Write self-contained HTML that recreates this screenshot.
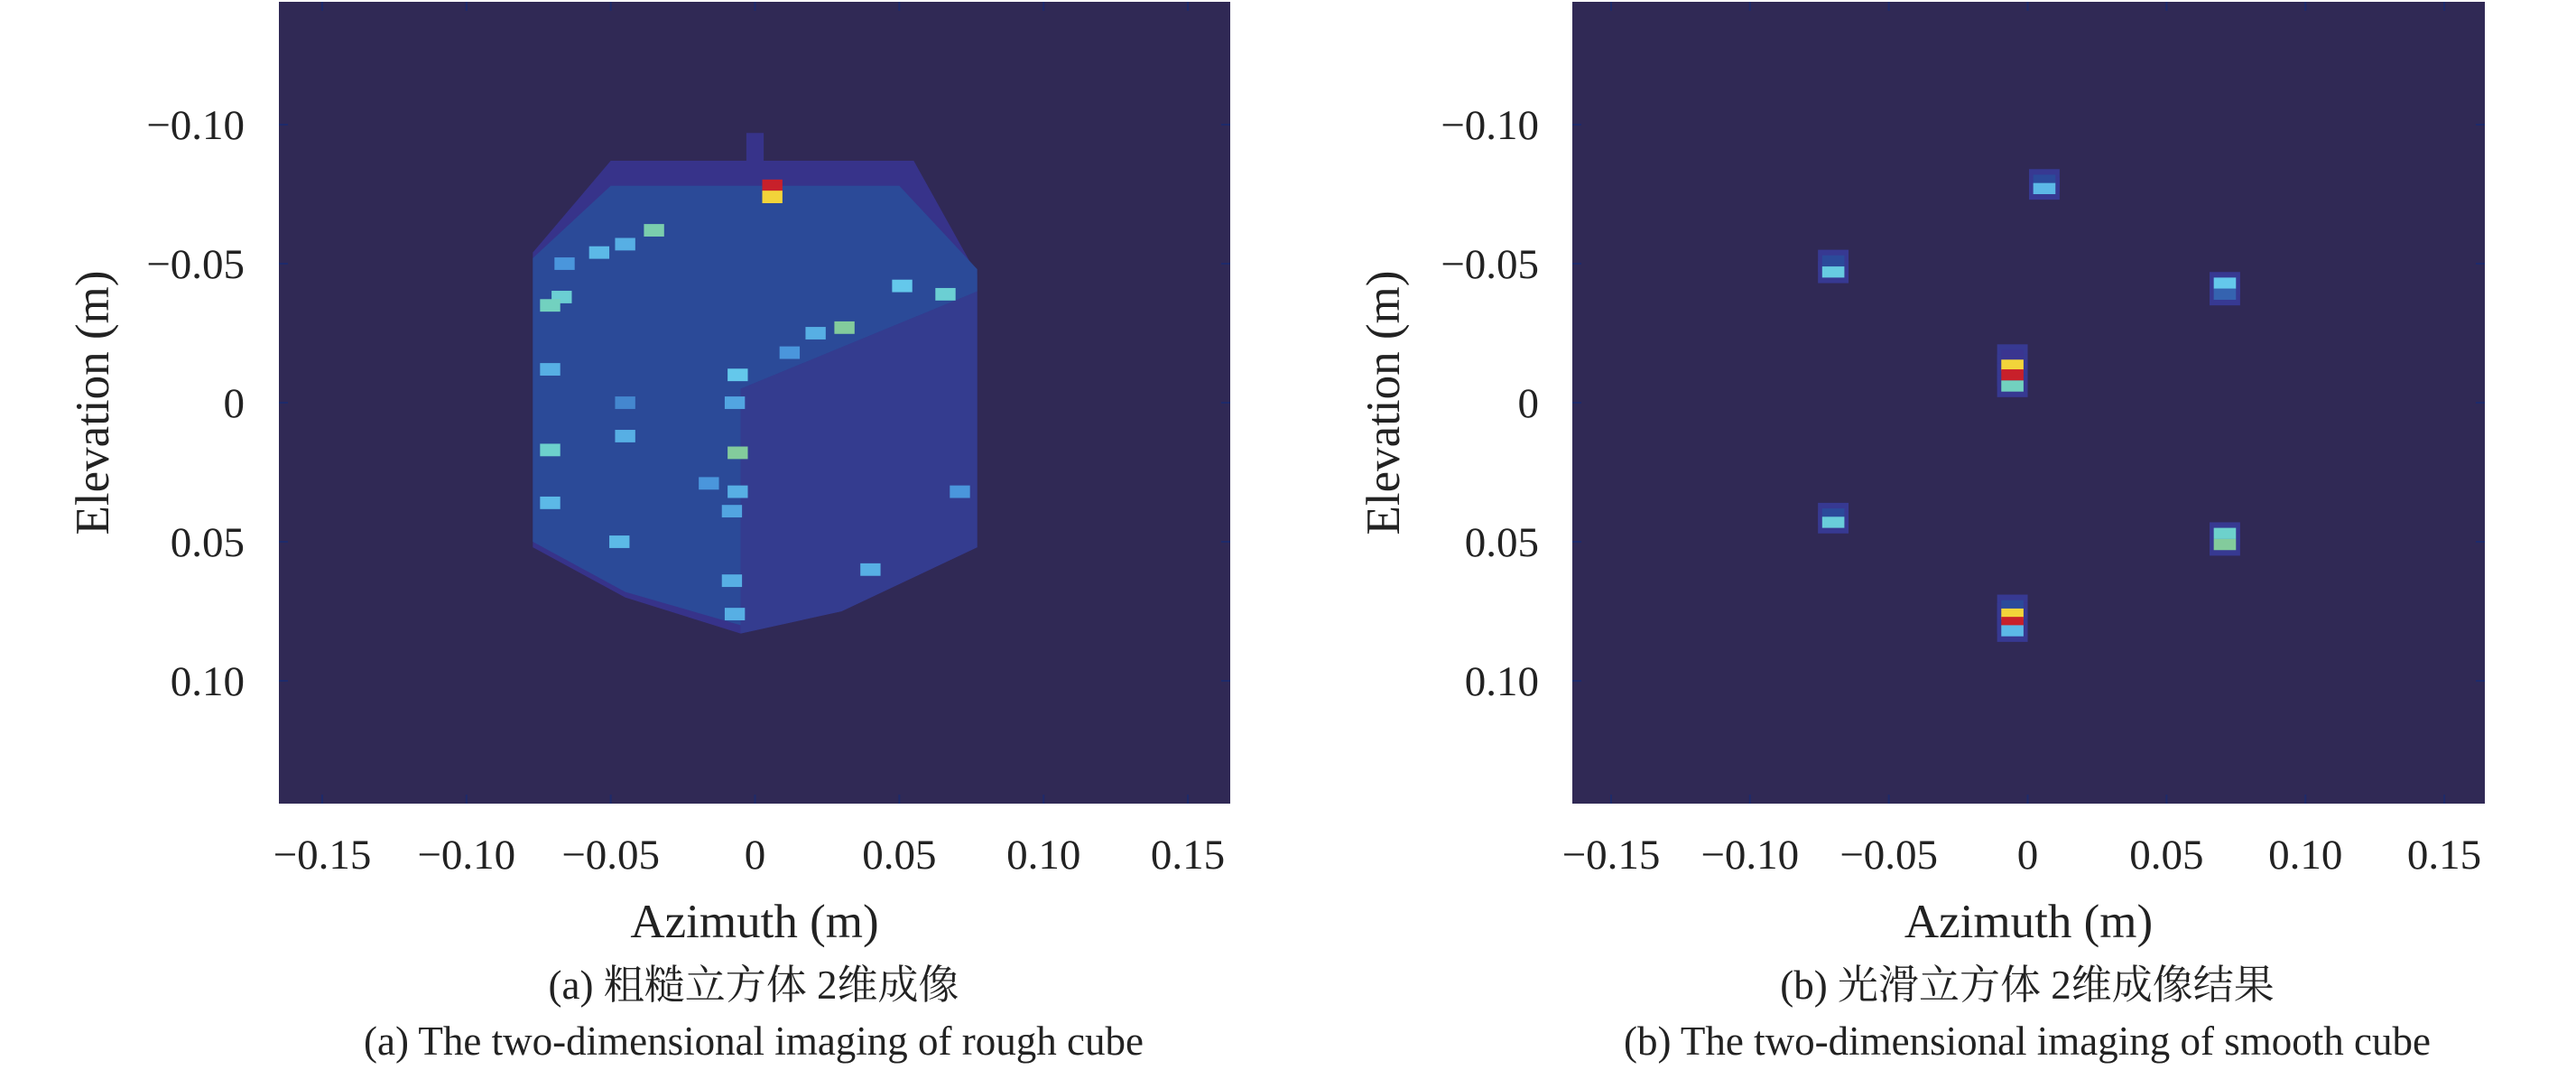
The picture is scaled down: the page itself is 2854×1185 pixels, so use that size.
<!DOCTYPE html>
<html><head><meta charset="utf-8">
<style>
html,body{margin:0;padding:0;background:#fff;}
svg{display:block;font-family:"Liberation Serif","Noto Serif CJK SC","Noto Sans CJK SC",serif;}
</style></head>
<body>
<svg id="fig" width="2854" height="1185" viewBox="0 0 2854 1185"></svg>
<script>
// ---- data ----
const xTicks = [-0.15, -0.10, -0.05, 0, 0.05, 0.10, 0.15];
const xTickLabels = ["−0.15", "−0.10", "−0.05", "0", "0.05", "0.10", "0.15"];
const yTicks = [-0.10, -0.05, 0, 0.05, 0.10];
const yTickLabels = ["−0.10", "−0.05", "0", "0.05", "0.10"];
// rough cube outline (x, y) in metres
const roughOuterX = [-0.003, 0.003, 0.003, 0.055, 0.077, 0.077, 0.03, -0.005, -0.045, -0.077, -0.077, -0.05, -0.003];
const roughOuterY = [-0.097, -0.097, -0.087, -0.087, -0.046, 0.052, 0.075, 0.083, 0.070, 0.052, -0.054, -0.087, -0.087];
const roughRightX = [-0.005, 0.077, 0.077, 0.03, -0.005];
const roughRightY = [-0.005, -0.040, 0.052, 0.075, 0.083];
const roughInnerX = [-0.077, -0.05, 0.05, 0.077, 0.077, -0.005, -0.005, -0.045, -0.077];
const roughInnerY = [-0.052, -0.078, -0.078, -0.048, -0.040, -0.005, 0.080, 0.068, 0.050];
// rough cube bright scatterers
const roughHotX = [0.006, 0.006, -0.035, -0.045, -0.054, -0.066, -0.067, -0.071, 0.051, 0.066, 0.031, 0.021, 0.012, -0.006, -0.071, -0.007, -0.045, -0.071, -0.045, -0.006, -0.016, -0.006, -0.008, -0.071, -0.047, 0.071, 0.040, -0.008, -0.007];
const roughHotY = [-0.078, -0.074, -0.062, -0.057, -0.054, -0.050, -0.038, -0.035, -0.042, -0.039, -0.027, -0.025, -0.018, -0.010, -0.012, 0.000, 0.000, 0.017, 0.012, 0.018, 0.029, 0.032, 0.039, 0.036, 0.050, 0.032, 0.060, 0.064, 0.076];
const roughHotV = [1.0, 0.85, 0.68, 0.5, 0.52, 0.45, 0.62, 0.66, 0.55, 0.62, 0.7, 0.5, 0.45, 0.55, 0.5, 0.48, 0.42, 0.64, 0.5, 0.7, 0.45, 0.5, 0.48, 0.52, 0.52, 0.45, 0.5, 0.5, 0.5];
// smooth cube scatterers
const smoothX = [0.006, 0.006, -0.070, -0.070, 0.071, 0.071, -0.0055, -0.0055, -0.0055, -0.0055, -0.070, -0.070, 0.071, 0.071, -0.0055, -0.0055, -0.0055, -0.0055];
const smoothY = [-0.080, -0.077, -0.051, -0.047, -0.043, -0.039, -0.017, -0.0135, -0.010, -0.006, 0.040, 0.043, 0.047, 0.051, 0.073, 0.076, 0.079, 0.082];
const smoothV = [0.3, 0.52, 0.3, 0.58, 0.55, 0.35, 0.2, 0.85, 1.0, 0.66, 0.3, 0.6, 0.64, 0.7, 0.3, 0.85, 1.0, 0.52];

const NS = "http://www.w3.org/2000/svg";
const svg = document.getElementById("fig");
function mk(tag, attrs, parent){ const e=document.createElementNS(NS,tag); for(const k in attrs) e.setAttribute(k,attrs[k]); (parent||svg).appendChild(e); return e; }
function cmap(v){
  const st=[[0,[48,41,85]],[0.2,[58,53,144]],[0.3,[43,74,154]],[0.45,[74,150,220]],[0.55,[100,200,235]],[0.65,[110,210,200]],[0.72,[140,200,138]],[0.85,[242,212,58]],[1,[200,32,42]]];
  for(let i=1;i<st.length;i++){ if(v<=st[i][0]){ const a=st[i-1],b=st[i],t=(v-a[0])/(b[0]-a[0]); const c=a[1].map((x,j)=>Math.round(x+(b[1][j]-x)*t)); return "rgb("+c.join(",")+")"; } }
  return "rgb(200,32,42)";
}

function makeAxes(name, L, R, x0px, pxPerX, ylabelX, tickRight){
  const T=2, B=890, y0px=446, pxPerY=3080;
  const sx=v=>x0px+v*pxPerX, sy=v=>y0px+v*pxPerY;
  const g=mk("g",{});  
  const bg=mk("rect",{x:L,y:T,width:R-L,height:B-T,fill:"#302955"},g);
   
  const clip=mk("clipPath",{id:name+"-clip"},g); mk("rect",{x:L,y:T,width:R-L,height:B-T},clip);
  const marks=mk("g",{"clip-path":"url(#"+name+"-clip)"},g);
  xTicks.forEach((t,i)=>{
    const x=sx(t);
    mk("line",{x1:x,y1:B,x2:x,y2:B-10,stroke:"#1e2a6a","stroke-width":2},g);
    mk("line",{x1:x,y1:T,x2:x,y2:T+10,stroke:"#1e2a6a","stroke-width":2},g);
    const tx=mk("text",{x:x,y:962,"font-size":47,"text-anchor":"middle",fill:"#222"},g); tx.textContent=xTickLabels[i];
     
  });
  yTicks.forEach((t,i)=>{
    const y=sy(t);
    mk("line",{x1:L,y1:y,x2:L+10,y2:y,stroke:"#1e2a6a","stroke-width":2},g);
    mk("line",{x1:R,y1:y,x2:R-10,y2:y,stroke:"#1e2a6a","stroke-width":2},g);
    const tx=mk("text",{x:tickRight,y:y+16,"font-size":47,"text-anchor":"end",fill:"#222"},g); tx.textContent=yTickLabels[i];
     
  });
  const xl=mk("text",{x:(L+R)/2,y:1038,"font-size":53,"text-anchor":"middle",fill:"#222"},g); xl.textContent="Azimuth (m)";
   
  const yl=mk("text",{x:0,y:0,"font-size":53,"text-anchor":"middle",fill:"#222",transform:"translate("+ylabelX+",446) rotate(-90)"},g); yl.textContent="Elevation (m)";
   
  return {sx,sy,marks,g};
}
function poly(ax, xs, ys, fill, name){
  const pts=xs.map((x,i)=>ax.sx(x)+","+ax.sy(ys[i])).join(" ");
  const p=mk("polygon",{points:pts,fill:fill},ax.marks);
   
}
function cells(ax, xs, ys, vs, w, h, name){
  xs.forEach((x,i)=>{
    const r=mk("rect",{x:ax.sx(x-w/2),y:ax.sy(ys[i]-h/2),width:w*Math.abs(ax.sx(1)-ax.sx(0)),height:h*3080,fill:cmap(vs[i])},ax.marks);
     
  });
}

// left: rough cube
const A=makeAxes("rough-cube-plot",309,1363,836.5,3197,120,271);
poly(A, roughOuterX, roughOuterY, "#37338a", "cube-outer-rim");
poly(A, roughInnerX, roughInnerY, "#2b4a98", "cube-left-face");
poly(A, roughRightX, roughRightY, "#343c8f", "cube-right-face");
cells(A, roughHotX, roughHotY, roughHotV, 0.007, 0.0045, "scatterer-cell");

// right: smooth cube
const Bx=makeAxes("smooth-cube-plot",1742,2753,2246.5,3077,1550,1705);
cells(Bx, smoothX, smoothY, smoothV.map(v=>v*0+0.22), 0.011, 0.008, "scatterer-halo");
cells(Bx, smoothX, smoothY, smoothV, 0.008, 0.004, "scatterer-cell");

function cap(x,y,t,name){ const e=mk("text",{x:x,y:y,"font-size":45,"text-anchor":"middle",fill:"#222"}); e.textContent=t;   }
cap(835,1106,"(a) 粗糙立方体 2维成像","caption-a-zh");
cap(835,1168,"(a) The two-dimensional imaging of rough cube","caption-a-en");
cap(2246,1106,"(b) 光滑立方体 2维成像结果","caption-b-zh");
cap(2246,1168,"(b) The two-dimensional imaging of smooth cube","caption-b-en");
</script>
</body></html>
